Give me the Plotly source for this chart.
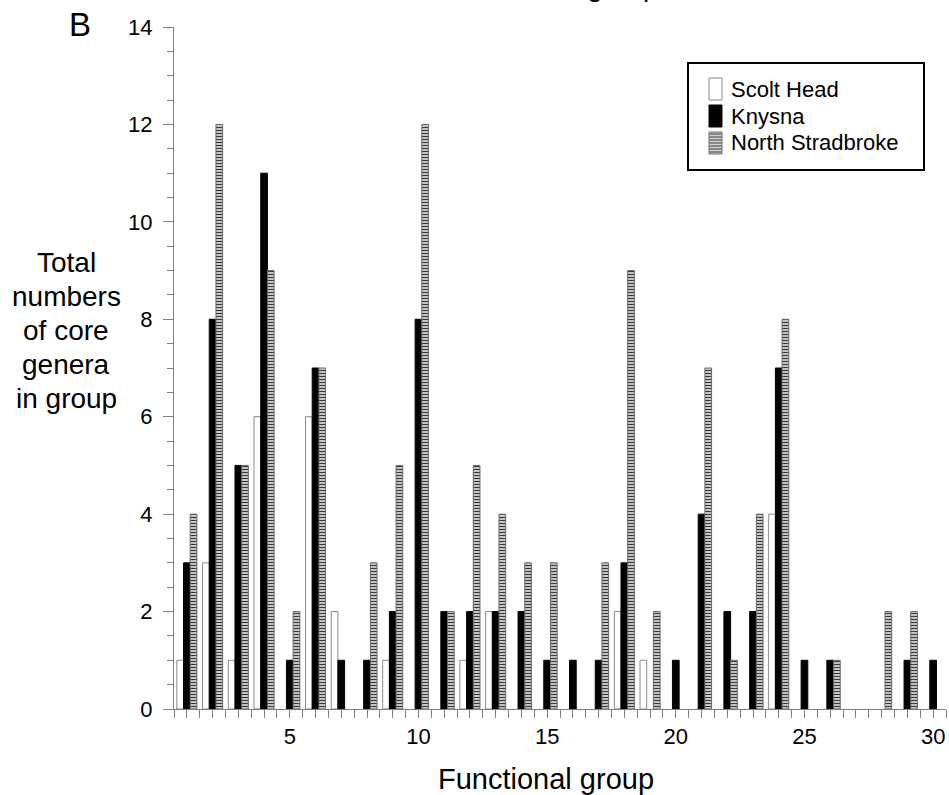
import plotly.graph_objects as go

# Functional groups 1..30 and the number of core genera per site
groups = list(range(1, 31))
scolt_head = [1, 3, 1, 6, 0, 6, 2, 0, 1, 0, 0, 1, 2, 0, 0,
              0, 0, 2, 1, 0, 0, 0, 0, 4, 0, 0, 0, 0, 0, 0]
knysna = [3, 8, 5, 11, 1, 7, 1, 1, 2, 8, 2, 2, 2, 2, 1,
          1, 1, 3, 0, 1, 4, 2, 2, 7, 1, 1, 0, 0, 1, 1]
north_stradbroke = [4, 12, 5, 9, 2, 7, 0, 3, 5, 12, 2, 5, 4, 3, 3,
                    0, 3, 9, 2, 0, 7, 1, 4, 8, 0, 1, 0, 2, 2, 0]

site_names = ["Scolt Head", "Knysna", "North Stradbroke"]
x_label_every = 5
y_ticks = [0, 2, 4, 6, 8, 10, 12, 14]
y_title_lines = ["Total", "numbers", "of core", "genera", "in group"]

FONT = "Liberation Sans, Arial, Helvetica, sans-serif"
AXIS_GREY = "#7f7f7f"
STRIPE_BG = "#d2d2d2"
STRIPE_FG = "#3a3a3a"

W, H = 949, 795
M_L, M_R, M_T, M_B = 174, 3, 27, 86
PLOT_W = W - M_L - M_R
PLOT_H = H - M_T - M_B


def px_x(px):
    return (px - M_L) / PLOT_W


def px_y(py):
    return (H - M_B - py) / PLOT_H


styles = [
    dict(color="white", line=dict(color="#8a8a8a", width=1)),
    dict(color="black", line=dict(color="black", width=1)),
    dict(color=STRIPE_BG, line=dict(color="#6a6a6a", width=1),
         pattern=dict(shape="-", size=3, solidity=0.4,
                      fgcolor=STRIPE_FG, bgcolor=STRIPE_BG, fillmode="replace")),
]

fig = go.Figure()
for name, values, style in zip(site_names, [scolt_head, knysna, north_stradbroke], styles):
    # empty groups get no bar at all (avoids outline slivers on the axis)
    heights = [v if v > 0 else None for v in values]
    fig.add_trace(go.Bar(x=groups, y=heights, name=name, marker=style, showlegend=False))

x_ticktext = [str(g) if g % x_label_every == 0 else "" for g in groups]

fig.update_layout(
    width=W, height=H,
    margin=dict(l=M_L, r=M_R, t=M_T, b=M_B, autoexpand=False),
    paper_bgcolor="white", plot_bgcolor="white",
    font=dict(family=FONT, color="black", size=22),
    barmode="group", bargap=0.22, bargroupgap=0.0,
    showlegend=False,
    xaxis=dict(
        range=[0.5, 30.5], showgrid=False, zeroline=False,
        showline=True, linecolor=AXIS_GREY, linewidth=1,
        tickmode="array", tickvals=groups, ticktext=x_ticktext,
        ticks="outside", ticklen=8, tickcolor=AXIS_GREY, tickwidth=1,
        tickfont=dict(size=22),
        minor=dict(tickmode="array", tickvals=[g - 0.5 for g in groups] + [30.5],
                   ticks="outside", ticklen=8, tickcolor=AXIS_GREY, tickwidth=1),
    ),
    yaxis=dict(
        range=[0, 14], showgrid=False, zeroline=False,
        showline=True, linecolor=AXIS_GREY, linewidth=1,
        tickmode="array", tickvals=y_ticks,
        ticks="outside", ticklen=10, tickcolor=AXIS_GREY, tickwidth=1,
        tickfont=dict(size=22), ticklabelstandoff=6,
        minor=dict(dtick=0.5, tick0=0, ticks="outside", ticklen=6,
                   tickcolor=AXIS_GREY, tickwidth=1),
    ),
)

annotations = []
shapes = []

# multi-line y-axis caption, one annotation per line for tight spacing
for i, line in enumerate(y_title_lines):
    annotations.append(dict(
        text=line, xref="paper", yref="paper",
        x=px_x(66), y=px_y(262 + 34 * i), xanchor="center", yanchor="middle",
        showarrow=False, font=dict(size=28, family=FONT),
    ))

# x-axis caption
annotations.append(dict(
    text="Functional group", xref="paper", yref="paper",
    x=px_x(546), y=px_y(779), xanchor="center", yanchor="middle",
    showarrow=False, font=dict(size=29, family=FONT),
))

# panel letter
annotations.append(dict(
    text="B", xref="paper", yref="paper", x=px_x(67), y=px_y(24),
    xanchor="left", yanchor="middle", showarrow=False,
    font=dict(size=33, family=FONT),
))

# panel heading sitting mostly above the page edge
annotations.append(dict(
    text="Functional group", xref="paper", yref="paper", x=px_x(661), y=px_y(-14),
    xanchor="right", yanchor="middle", showarrow=False,
    font=dict(size=28, family=FONT),
))

# legend: framed box with tall swatches and labels
LEG_L, LEG_R, LEG_T, LEG_B = 688, 924, 63, 170
shapes.append(dict(type="rect", xref="paper", yref="paper",
                   x0=px_x(LEG_L), x1=px_x(LEG_R), y0=px_y(LEG_B), y1=px_y(LEG_T),
                   line=dict(color="black", width=2), fillcolor="white", layer="above"))
row_baselines = [97, 124, 151]
SW_L, SW_W, SW_H = 709, 13, 22
for name, style, base in zip(site_names, styles, row_baselines):
    cy = base - 8
    y_top, y_bot = cy - SW_H / 2, cy + SW_H / 2
    shapes.append(dict(type="rect", xref="paper", yref="paper",
                       x0=px_x(SW_L), x1=px_x(SW_L + SW_W), y0=px_y(y_bot), y1=px_y(y_top),
                       fillcolor=style["color"], layer="above",
                       line=dict(color=style["line"]["color"], width=1)))
    if "pattern" in style:
        yy = y_top + 2
        while yy < y_bot - 0.5:
            shapes.append(dict(type="line", xref="paper", yref="paper",
                               x0=px_x(SW_L + 0.5), x1=px_x(SW_L + SW_W - 0.5),
                               y0=px_y(yy), y1=px_y(yy), layer="above",
                               line=dict(color=STRIPE_FG, width=1)))
            yy += 3
    annotations.append(dict(
        text=name, xref="paper", yref="paper", x=px_x(729), y=px_y(cy),
        xanchor="left", yanchor="middle", showarrow=False,
        font=dict(size=22, family=FONT),
    ))

fig.update_layout(annotations=annotations, shapes=shapes)

fig.write_html("out.html")
